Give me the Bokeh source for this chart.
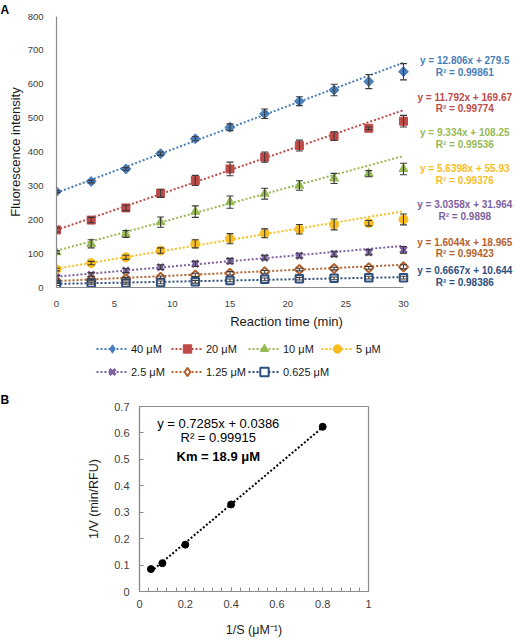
import numpy as np
from bokeh.plotting import figure
from bokeh.layouts import column, row
from bokeh.models import (ColumnDataSource, Range1d, Label, Legend, LegendItem,
                          Whisker, TeeHead, SingleIntervalTicker, Title)
from bokeh.embed import file_html
from bokeh.resources import INLINE

# ---------------- Panel A: fluorescence vs reaction time ----------------
time_min = [0, 3, 6, 9, 12, 15, 18, 21, 24, 27, 30]
conc_labels = ["40 μM", "20 μM", "10 μM", "5 μM", "2.5 μM", "1.25 μM", "0.625 μM"]
conc_um = [40, 20, 10, 5, 2.5, 1.25, 0.625]

fl_40 = [283, 313, 350, 395, 439, 473, 513, 550, 583, 608, 637]
fl_20 = [170, 199, 235, 278, 316, 350, 385, 419, 447, 470, 491]
fl_10 = [104, 129, 158, 193, 224, 252, 277, 301, 322, 336, 350]
fl_5 = [53, 72, 89, 109, 129, 144, 160, 172, 186, 190, 201]
fl_2_5 = [30, 38, 50, 60, 70, 78, 88, 94, 99, 104, 111]
fl_1_25 = [18, 23, 26, 30, 37, 42, 46, 53, 56, 58, 61]
fl_0_625 = [9, 13, 13, 15, 17, 21, 24, 26, 27, 29, 29]

err_40 = [3, 4, 4, 5, 6, 10, 14, 13, 17, 21, 24]
err_20 = [6, 8, 8, 12, 15, 20, 15, 16, 13, 4, 17]
err_10 = [4, 12, 10, 15, 17, 18, 16, 14, 15, 9, 17]
err_5 = [4, 5, 6, 8, 12, 15, 13, 14, 16, 8, 16]
err_2_5 = [5, 6, 6, 7, 8, 8, 7, 7, 8, 8, 10]
err_1_25 = [3, 3, 4, 4, 5, 5, 4, 4, 4, 4, 6]
err_0_625 = [3, 3, 3, 4, 4, 4, 4, 4, 4, 4, 4]

# linear fits (slope, intercept, R²) for each concentration
slopes = [12.806, 11.792, 9.334, 5.6398, 3.0358, 1.6044, 0.6667]
intercepts = [279.5, 169.67, 108.25, 55.93, 31.964, 18.965, 10.644]
r_squared = [0.99861, 0.99774, 0.99536, 0.99376, 0.9898, 0.99423, 0.98386]

# ---------------- Panel B: Lineweaver-Burk ----------------
lb_conc_um = [20, 10, 5, 2.5, 1.25]
lb_slope = 0.7285
lb_intercept = 0.0386
lb_r2 = 0.99915
km_um = 18.9

FONT = "Liberation Sans"
AXIS_GRAY = "#8C8C8C"
TICK_TEXT = "#404040"

series_fl = [fl_40, fl_20, fl_10, fl_5, fl_2_5, fl_1_25, fl_0_625]
series_err = [err_40, err_20, err_10, err_5, err_2_5, err_1_25, err_0_625]
colors = ["#4A7EBB", "#BE4B48", "#98B954", "#F8BD1F", "#7D60A0", "#B4622D", "#2F4F7F"]
# marker: data glyph, legend-key glyph (legend keys are drawn unrotated)
styles = [
    dict(marker="square", key="diamond", size=7, angle=np.pi / 4, fill=True, lw=1),
    dict(marker="square", key="square", size=8, angle=0, fill=True, lw=1),
    dict(marker="triangle", key="triangle", size=9, angle=0, fill=True, lw=1),
    dict(marker="circle", key="circle", size=9, angle=0, fill=True, lw=1),
    dict(marker="x", key="x", size=9, angle=0, fill=False, lw=3),
    dict(marker="square", key="diamond", size=6.5, angle=np.pi / 4, fill=False, lw=2),
    dict(marker="square", key="square", size=7.5, angle=0, fill=False, lw=2),
]
# vertical placement of each fit's equation (y = ..., R² = ...) in data units
eq_y = [(670, 635), (561, 528), (458, 422), (350, 316), (245, 210), (134, 100), (50, 15)]
# legend key positions (screen px inside the legend strip): left edge, row
key_pos = [(96, 0), (171, 0), (248, 0), (321, 0), (96, 1), (171, 1), (248, 1)]

# the frame runs to the right edge so the fit equations sit inside it;
# the x axis itself is bounded to the 0-30 min span
pa = figure(width=516, height=338, output_backend="svg", toolbar_location=None,
            x_range=Range1d(0, 39.77), y_range=Range1d(0, 800),
            min_border_left=56, min_border_right=0, min_border_top=16,
            min_border_bottom=51)
pa.outline_line_color = None
pa.grid.visible = False
pa.background_fill_color = "white"
pa.border_fill_color = "white"

for ax in (pa.xaxis, pa.yaxis):
    ax.axis_line_color = AXIS_GRAY
    ax.axis_line_width = 1.2
    ax.major_tick_line_color = None
    ax.minor_tick_line_color = None
    ax.major_label_text_font = FONT
    ax.major_label_text_font_size = "9.5px"
    ax.major_label_text_color = TICK_TEXT
    ax.axis_label_text_font = FONT
    ax.axis_label_text_font_style = "normal"
    ax.axis_label_text_font_size = "13px"
    ax.axis_label_text_color = "#1A1A1A"
pa.xaxis.ticker = [0, 5, 10, 15, 20, 25, 30]
pa.xaxis.bounds = (0, 30)
pa.yaxis.ticker = [0, 100, 200, 300, 400, 500, 600, 700, 800]
pa.xaxis.major_label_standoff = 7
pa.yaxis.major_label_standoff = 7
pa.xaxis.axis_label = "Reaction time (min)"
pa.yaxis.axis_label = "Fluorescence intensity"
pa.xaxis.axis_label_standoff = 4
pa.yaxis.axis_label_standoff = 2

# legend strip below panel A; its key renderers reuse the series data,
# which lies outside this strip's ranges, so only the legend keys show
lf = figure(width=516, height=52, output_backend="svg", toolbar_location=None,
            x_range=Range1d(0, 1), y_range=Range1d(-2, -1),
            x_axis_location=None, y_axis_location=None,
            min_border_left=0, min_border_right=0, min_border_top=0,
            min_border_bottom=0)
lf.outline_line_color = None
lf.grid.visible = False

t_fit = np.array([0.0, 30.0])
for i in range(len(series_fl)):
    c = colors[i]
    st = styles[i]
    fl = np.array(series_fl[i], dtype=float)
    er = np.array(series_err[i], dtype=float)
    src = ColumnDataSource(dict(t=time_min, fl=fl, lo=fl - er, hi=fl + er))
    fit_y = slopes[i] * t_fit + intercepts[i]
    fill = c if st["fill"] else "white"

    pa.line(t_fit, fit_y, line_color=c, line_width=2, line_dash="2 2")
    wh = Whisker(source=src, base="t", lower="lo", upper="hi", dimension="height",
                 line_color="#3A3A3A", line_width=1.1,
                 upper_head=TeeHead(size=7, line_color="#3A3A3A", line_width=1.1),
                 lower_head=TeeHead(size=7, line_color="#3A3A3A", line_width=1.1),
                 level="glyph")
    pa.add_layout(wh)
    pa.scatter("t", "fl", source=src, marker=st["marker"], size=st["size"],
               angle=st["angle"], line_color=c, line_width=st["lw"], fill_color=fill)

    key_line = lf.line(t_fit, fit_y, line_color=c, line_width=2, line_dash="2 2")
    key_pt = lf.scatter("t", "fl", source=src, marker=st["key"], size=st["size"],
                        line_color=c, line_width=st["lw"], fill_color=fill)
    kx, krow = key_pos[i]
    lf.add_layout(Legend(
        items=[LegendItem(label=conc_labels[i], renderers=[key_line, key_pt])],
        location=(kx, 31 - 23 * krow), orientation="horizontal",
        glyph_width=32, glyph_height=21, label_standoff=3, padding=0, margin=0,
        border_line_alpha=0, background_fill_alpha=0, label_text_font=FONT,
        label_text_font_size="11px", label_text_color="#1A1A1A", label_height=21),
        "center")

    ey1, ey2 = eq_y[i]
    for txt, yy in ((f"y = {slopes[i]}x + {intercepts[i]}", ey1),
                    (f"R² = {r_squared[i]}", ey2)):
        pa.add_layout(Label(x=35.3, y=yy, text=txt, text_align="center",
                            text_baseline="middle", text_font=FONT,
                            text_font_size="10px", text_font_style="bold",
                            text_color=c))

pa.title = Title(text="A", align="left", offset=-56, standoff=0,
                 text_font=FONT, text_font_size="12px", text_font_style="bold",
                 text_color="black")

# ---------------- Panel B ----------------
inv_s = [1.0 / c for c in lb_conc_um]
inv_v = [1.0 / s for s in slopes[1:6]]

pb = figure(width=516, height=249, output_backend="svg", toolbar_location=None,
            x_range=Range1d(0, 1), y_range=Range1d(0, 0.7),
            min_border_left=139, min_border_right=148, min_border_top=15,
            min_border_bottom=47)
pb.grid.visible = False
pb.outline_line_color = AXIS_GRAY
pb.outline_line_width = 1.2
pb.background_fill_color = "white"
pb.border_fill_color = "white"
for ax in (pb.xaxis, pb.yaxis):
    ax.axis_line_color = AXIS_GRAY
    ax.axis_line_width = 1.2
    ax.major_tick_line_color = AXIS_GRAY
    ax.major_tick_in = 4
    ax.major_tick_out = 0
    ax.minor_tick_line_color = AXIS_GRAY
    ax.minor_tick_in = 4
    ax.minor_tick_out = 0
    ax.major_label_text_font = FONT
    ax.major_label_text_font_size = "11px"
    ax.major_label_text_color = TICK_TEXT
    ax.axis_label_text_font = FONT
    ax.axis_label_text_font_style = "normal"
    ax.axis_label_text_font_size = "12.5px"
    ax.axis_label_text_color = "#1A1A1A"
pb.xaxis.ticker = SingleIntervalTicker(interval=0.2, num_minor_ticks=5)
pb.yaxis.ticker = [0, 0.1, 0.2, 0.3, 0.4, 0.5, 0.6, 0.7]
pb.yaxis.minor_tick_line_color = None
pb.xaxis.major_label_overrides = {0: "0", 1: "1"}
pb.yaxis.major_label_overrides = {0: "0"}
pb.xaxis.major_label_standoff = 8
pb.yaxis.major_label_standoff = 10
pb.xaxis.axis_label = "1/S (μM⁻¹)"
pb.yaxis.axis_label = "1/V (min/RFU)"
pb.xaxis.axis_label_standoff = 12
pb.yaxis.axis_label_standoff = 10

s_fit = np.array([min(inv_s), max(inv_s)])
pb.line(s_fit, lb_slope * s_fit + lb_intercept, line_color="black",
        line_width=2, line_dash="2 2")
pb.scatter(inv_s, inv_v, marker="circle", size=7, fill_color="black",
           line_color="black")

for txt, yy, style in ((f"y = {lb_slope}x + {lb_intercept}", 0.634, "normal"),
                       (f"R² = {lb_r2}", 0.581, "normal"),
                       (f"Km = {km_um} μM", 0.509, "bold")):
    pb.add_layout(Label(x=0.344, y=yy, text=txt, text_align="center",
                        text_baseline="middle", text_font=FONT,
                        text_font_size="13px", text_font_style=style,
                        text_color="black"))

pb.title = Title(text="B", align="left", offset=-139, standoff=0,
                 text_font=FONT, text_font_size="12px", text_font_style="bold",
                 text_color="black")

layout = column(pa, row(lf), row(pb), spacing=0)
open("out.html", "w").write(file_html(layout, INLINE))
